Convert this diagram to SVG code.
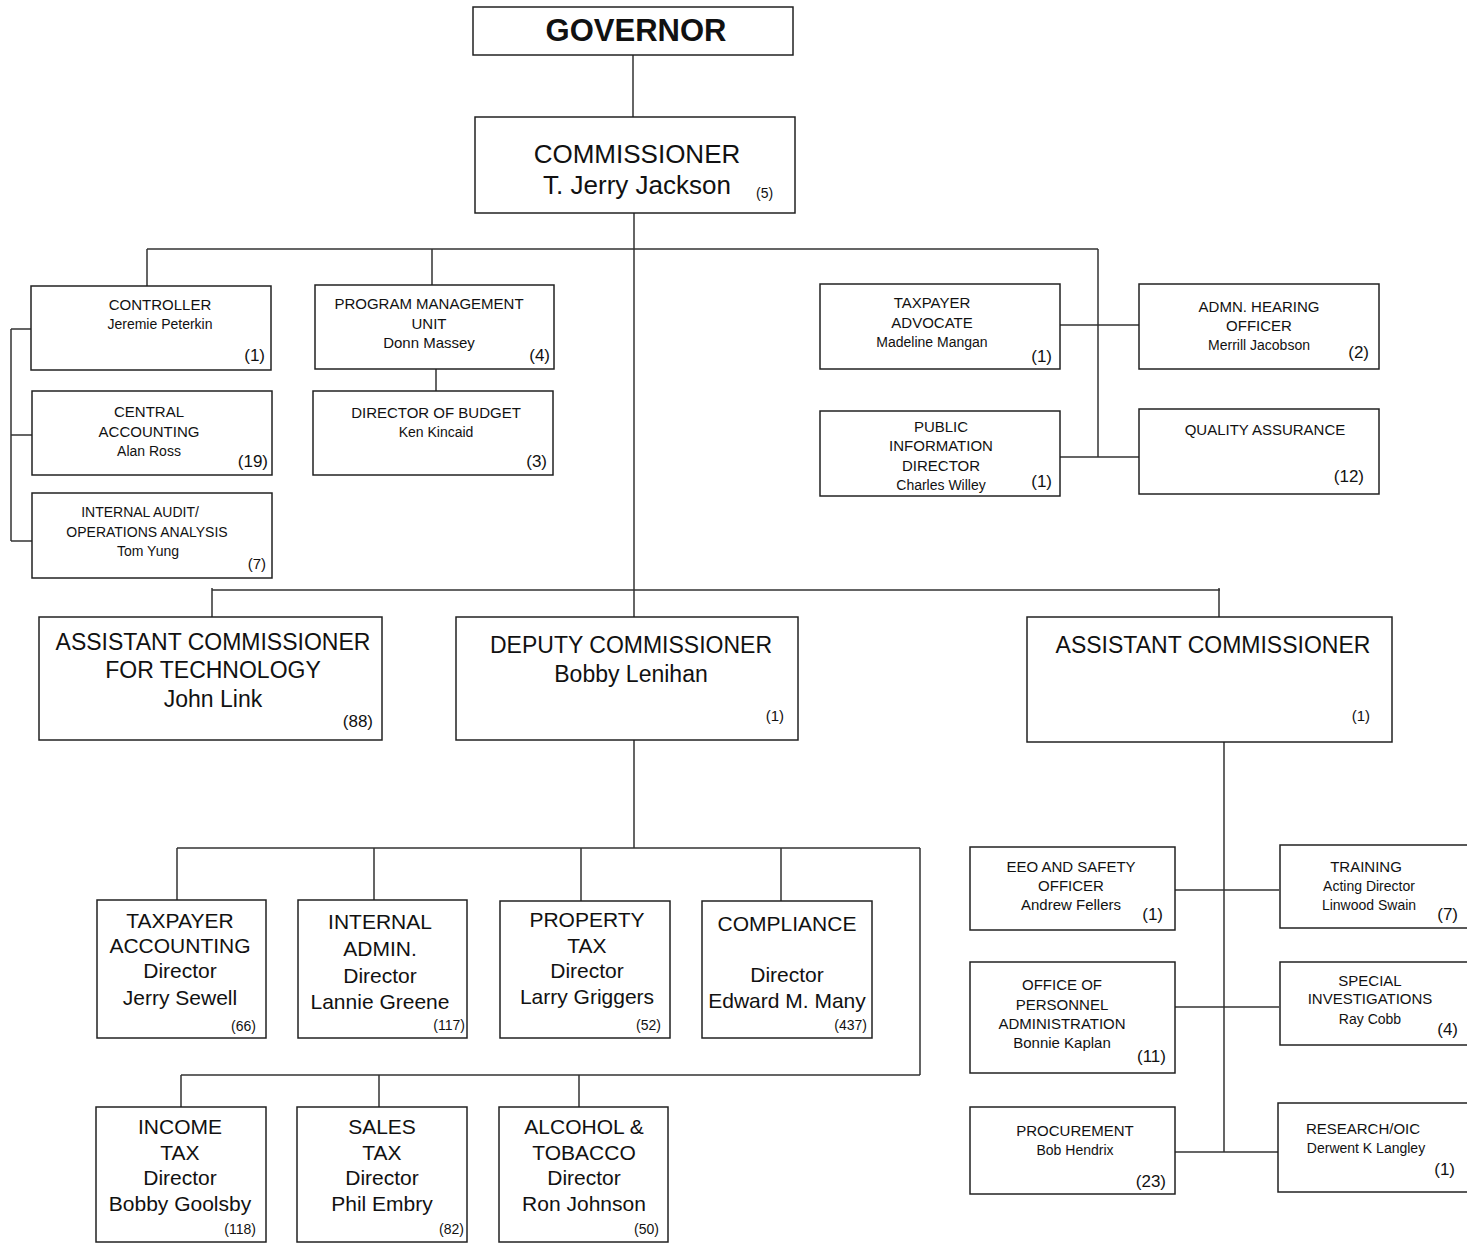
<svg xmlns="http://www.w3.org/2000/svg" width="1467" height="1244" viewBox="0 0 1467 1244">
<style>
.box{fill:#fff;stroke:#222;stroke-width:1.5}
.ln{stroke:#333;stroke-width:1.5;fill:none}
text{font-family:"Liberation Sans",Arial,sans-serif;fill:#111}
.c{text-anchor:middle}
.e{text-anchor:end}
.s15{font-size:15px}
.s14{font-size:14px}
.s17{font-size:17px}
.s21{font-size:21px}
.s23{font-size:23px}
.s26{font-size:26px}
</style>
<rect width="1467" height="1244" fill="#fff"/>
<g id="connectors">
<path class="ln" d="M633 55V117"/>
<path class="ln" d="M634 213V617"/>
<path class="ln" d="M147 249H1098M147 249V286M432 249V285M1098 249V457"/>
<path class="ln" d="M11 329V541M11 329H31M11 435H32M11 541H32"/>
<path class="ln" d="M436 369V391"/>
<path class="ln" d="M1060 325H1139M1060 457H1139"/>
<path class="ln" d="M212 590H1220M212 588V617M1219 588V617"/>
<path class="ln" d="M634 740V848M177 848H920M177 848V900M374 848V900M581 848V901M781 848V901M920 848V1075M181 1075H920M181 1075V1107M379 1075V1107M579 1075V1107"/>
<path class="ln" d="M1224 738V1152M1175 890H1279M1175 1007H1279M1175 1152H1278"/>
</g>
<g id="governor"><rect class="box" x="473" y="7" width="320" height="48"/><text class="c" x="636" y="41" style="font-size:31px;font-weight:bold">GOVERNOR</text></g>
<g id="commissioner"><rect class="box" x="475" y="117" width="320" height="96"/><text class="c s26" x="637" y="163">COMMISSIONER</text><text class="c s26" x="637" y="194">T. Jerry Jackson</text><text class="s14" x="756" y="198">(5)</text></g>
<g id="controller"><rect class="box" x="31" y="286" width="240" height="84"/><text class="c s15" x="160" y="310">CONTROLLER</text><text class="c s14" x="160" y="329">Jeremie Peterkin</text><text class="e s17" x="265" y="361">(1)</text></g>
<g id="central-accounting"><rect class="box" x="32" y="391" width="240" height="84"/><text class="c s15" x="149" y="417">CENTRAL</text><text class="c s15" x="149" y="437">ACCOUNTING</text><text class="c s14" x="149" y="456">Alan Ross</text><text class="e s17" x="268" y="467">(19)</text></g>
<g id="internal-audit"><rect class="box" x="32" y="493" width="240" height="85"/><text class="c s14" x="140" y="517">INTERNAL AUDIT/</text><text class="c s14" x="147" y="537">OPERATIONS ANALYSIS</text><text class="c s14" x="148" y="556">Tom Yung</text><text class="e s15" x="266" y="569">(7)</text></g>
<g id="program-management"><rect class="box" x="315" y="285" width="239" height="84"/><text class="c s15" x="429" y="309">PROGRAM MANAGEMENT</text><text class="c s15" x="429" y="329">UNIT</text><text class="c s15" x="429" y="348">Donn Massey</text><text class="e s17" x="550" y="361">(4)</text></g>
<g id="director-budget"><rect class="box" x="313" y="391" width="240" height="84"/><text class="c s15" x="436" y="418">DIRECTOR OF BUDGET</text><text class="c s14" x="436" y="437">Ken Kincaid</text><text class="e s17" x="547" y="467">(3)</text></g>
<g id="taxpayer-advocate"><rect class="box" x="820" y="284" width="240" height="85"/><text class="c s15" x="932" y="308">TAXPAYER</text><text class="c s15" x="932" y="328">ADVOCATE</text><text class="c s14" x="932" y="347">Madeline Mangan</text><text class="e s17" x="1052" y="362">(1)</text></g>
<g id="admn-hearing"><rect class="box" x="1139" y="284" width="240" height="85"/><text class="c s15" x="1259" y="312">ADMN. HEARING</text><text class="c s15" x="1259" y="331">OFFICER</text><text class="c s14" x="1259" y="350">Merrill Jacobson</text><text class="e s17" x="1369" y="358">(2)</text></g>
<g id="public-information"><rect class="box" x="820" y="411" width="240" height="85"/><text class="c s15" x="941" y="432">PUBLIC</text><text class="c s15" x="941" y="451">INFORMATION</text><text class="c s15" x="941" y="471">DIRECTOR</text><text class="c s14" x="941" y="490">Charles Willey</text><text class="e s17" x="1052" y="487">(1)</text></g>
<g id="quality-assurance"><rect class="box" x="1139" y="409" width="240" height="85"/><text class="c s15" x="1265" y="435">QUALITY ASSURANCE</text><text class="e s17" x="1364" y="482">(12)</text></g>
<g id="asst-tech"><rect class="box" x="39" y="617" width="343" height="123"/><text class="c s23" x="213" y="650">ASSISTANT COMMISSIONER</text><text class="c s23" x="213" y="678">FOR TECHNOLOGY</text><text class="c s23" x="213" y="707">John Link</text><text class="e s17" x="373" y="727">(88)</text></g>
<g id="deputy"><rect class="box" x="456" y="617" width="342" height="123"/><text class="c s23" x="631" y="653">DEPUTY COMMISSIONER</text><text class="c s23" x="631" y="682">Bobby Lenihan</text><text class="e s15" x="784" y="721">(1)</text></g>
<g id="asst-commissioner"><rect class="box" x="1027" y="617" width="365" height="125"/><text class="c s23" x="1213" y="653">ASSISTANT COMMISSIONER</text><text class="e s15" x="1370" y="721">(1)</text></g>
<g id="taxpayer-accounting"><rect class="box" x="97" y="900" width="169" height="138"/><text class="c s21" x="180" y="928">TAXPAYER</text><text class="c s21" x="180" y="953">ACCOUNTING</text><text class="c s21" x="180" y="978">Director</text><text class="c s21" x="180" y="1005">Jerry  Sewell</text><text class="e s14" x="256" y="1031">(66)</text></g>
<g id="internal-admin"><rect class="box" x="298" y="900" width="169" height="138"/><text class="c s21" x="380" y="929">INTERNAL</text><text class="c s21" x="380" y="956">ADMIN.</text><text class="c s21" x="380" y="983">Director</text><text class="c s21" x="380" y="1009">Lannie Greene</text><text class="e s14" x="465" y="1030">(117)</text></g>
<g id="property-tax"><rect class="box" x="500" y="901" width="170" height="137"/><text class="c s21" x="587" y="927">PROPERTY</text><text class="c s21" x="587" y="953">TAX</text><text class="c s21" x="587" y="978">Director</text><text class="c s21" x="587" y="1004">Larry Griggers</text><text class="e s14" x="661" y="1030">(52)</text></g>
<g id="compliance"><rect class="box" x="702" y="901" width="170" height="137"/><text class="c s21" x="787" y="931">COMPLIANCE</text><text class="c s21" x="787" y="982">Director</text><text class="c s21" x="787" y="1008">Edward M. Many</text><text class="e s14" x="867" y="1030">(437)</text></g>
<g id="income-tax"><rect class="box" x="96" y="1107" width="170" height="135"/><text class="c s21" x="180" y="1134">INCOME</text><text class="c s21" x="180" y="1160">TAX</text><text class="c s21" x="180" y="1185">Director</text><text class="c s21" x="180" y="1211">Bobby  Goolsby</text><text class="e s14" x="256" y="1234">(118)</text></g>
<g id="sales-tax"><rect class="box" x="297" y="1107" width="170" height="135"/><text class="c s21" x="382" y="1134">SALES</text><text class="c s21" x="382" y="1160">TAX</text><text class="c s21" x="382" y="1185">Director</text><text class="c s21" x="382" y="1211">Phil Embry</text><text class="e s14" x="464" y="1234">(82)</text></g>
<g id="alcohol-tobacco"><rect class="box" x="499" y="1107" width="169" height="135"/><text class="c s21" x="584" y="1134">ALCOHOL &amp;</text><text class="c s21" x="584" y="1160">TOBACCO</text><text class="c s21" x="584" y="1185">Director</text><text class="c s21" x="584" y="1211">Ron Johnson</text><text class="e s14" x="659" y="1234">(50)</text></g>
<g id="eeo-safety"><rect class="box" x="970" y="847" width="205" height="83"/><text class="c s15" x="1071" y="872">EEO AND SAFETY</text><text class="c s15" x="1071" y="891">OFFICER</text><text class="c s15" x="1071" y="910">Andrew  Fellers</text><text class="e s17" x="1163" y="920">(1)</text></g>
<g id="training"><rect class="box" x="1280" y="845" width="192" height="83"/><text class="c s15" x="1366" y="872">TRAINING</text><text class="c s14" x="1369" y="891">Acting Director</text><text class="c s14" x="1369" y="910">Linwood Swain</text><text class="e s17" x="1458" y="920">(7)</text></g>
<g id="personnel"><rect class="box" x="970" y="962" width="205" height="111"/><text class="c s15" x="1062" y="990">OFFICE OF</text><text class="c s15" x="1062" y="1010">PERSONNEL</text><text class="c s15" x="1062" y="1029">ADMINISTRATION</text><text class="c s15" x="1062" y="1048">Bonnie  Kaplan</text><text class="e s17" x="1166" y="1062">(11)</text></g>
<g id="special-investigations"><rect class="box" x="1280" y="962" width="192" height="83"/><text class="c s15" x="1370" y="986">SPECIAL</text><text class="c s15" x="1370" y="1004">INVESTIGATIONS</text><text class="c s14" x="1370" y="1024">Ray Cobb</text><text class="e s17" x="1458" y="1035">(4)</text></g>
<g id="procurement"><rect class="box" x="970" y="1107" width="205" height="87"/><text class="c s15" x="1075" y="1136">PROCUREMENT</text><text class="c s14" x="1075" y="1155">Bob Hendrix</text><text class="e s17" x="1166" y="1187">(23)</text></g>
<g id="research-oic"><rect class="box" x="1278" y="1103" width="194" height="89"/><text class="c s15" x="1363" y="1134">RESEARCH/OIC</text><text class="c s14" x="1366" y="1153">Derwent K Langley</text><text class="e s17" x="1455" y="1175">(1)</text></g>
</svg>
